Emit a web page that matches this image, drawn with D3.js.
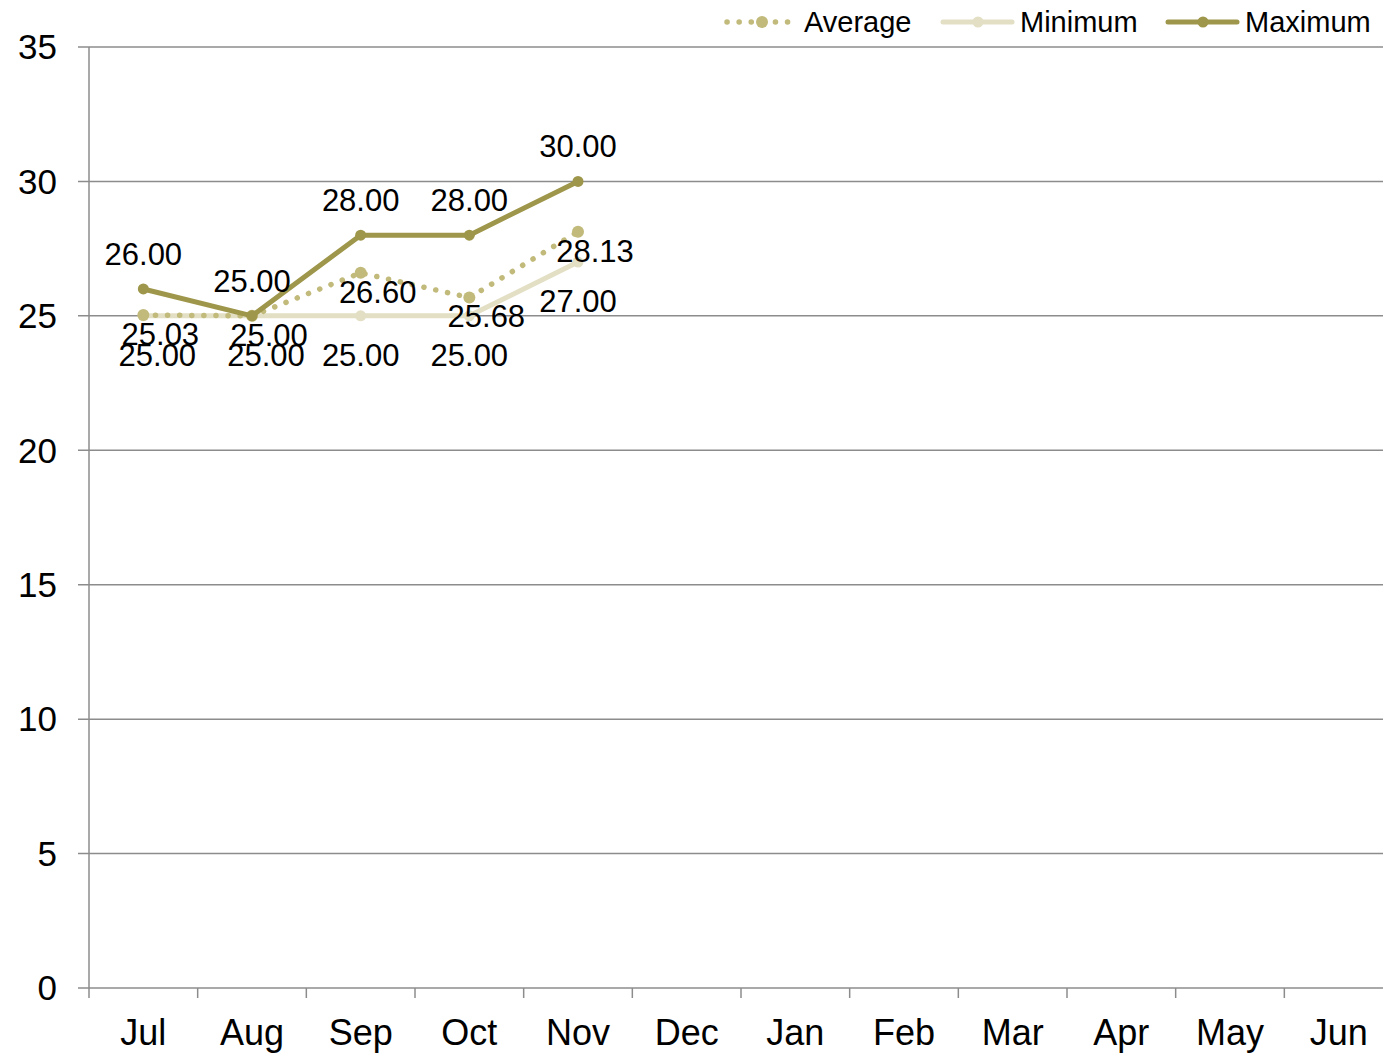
<!DOCTYPE html>
<html>
<head>
<meta charset="utf-8">
<script src="https://cdn.jsdelivr.net/npm/d3@7"></script>
<style>
  body { margin: 0; background: #fff; }
  svg { display: block; font-family: "Liberation Sans", Arial, sans-serif; }
</style>
</head>
<body>
<svg width="1383" height="1054"></svg>
<script>
'use strict';

const months = ["Jul", "Aug", "Sep", "Oct", "Nov", "Dec", "Jan", "Feb", "Mar", "Apr", "May", "Jun"];
const average = [25.03, 25.00, 26.60, 25.68, 28.13];
const minimum = [25.00, 25.00, 25.00, 25.00, 27.00];
const maximum = [26.00, 25.00, 28.00, 28.00, 30.00];
const yTicks = [0, 5, 10, 15, 20, 25, 30, 35];

let svg = d3.select("svg");
let margin = {left: 89, right: -10, top: 47, bottom: 66};
let width = +svg.attr("width"), height = +svg.attr("height");

let x = d3.scaleBand().domain(months).range([margin.left, width - margin.right]);
let y = d3.scaleLinear().domain([0, 35]).range([height - margin.bottom, margin.top]);

// gridlines
svg.append("g").selectAll("line").data(yTicks).enter().append("line")
    .attr("x1", margin.left - 11).attr("x2", width)
    .attr("y1", d => y(d)).attr("y2", d => y(d))
    .attr("stroke", "#8c8c8c").attr("stroke-width", 1.5);

// y axis line
svg.append("line")
    .attr("x1", margin.left).attr("x2", margin.left)
    .attr("y1", y(35)).attr("y2", y(0))
    .attr("stroke", "#8c8c8c").attr("stroke-width", 1.5);

// y labels
svg.append("g").selectAll("text").data(yTicks).enter().append("text")
    .attr("x", 57).attr("y", d => y(d))
    .attr("dy", "0.35em").attr("text-anchor", "end")
    .attr("font-size", 35).attr("fill", "#000")
    .text(d => d);

// x ticks
svg.append("g").selectAll("line").data(months).enter().append("line")
    .attr("x1", d => x(d)).attr("x2", d => x(d))
    .attr("y1", y(0)).attr("y2", y(0) + 10)
    .attr("stroke", "#8c8c8c").attr("stroke-width", 1.5);

svg.append("g").selectAll("text").data(months).enter().append("text")
    .attr("x", d => x(d) + x.bandwidth() / 2)
    .attr("y", 1045)
    .attr("text-anchor", "middle")
    .attr("font-size", 36).attr("fill", "#000")
    .text(d => d);

let cx = i => x(months[i]) + x.bandwidth() / 2;
let line = d3.line().x((d, i) => cx(i)).y(d => y(d));

let series = [
    {name: "Minimum", data: minimum, color: "#e2dfc4", dash: null, w: 5, r: 5.5, ldx: 0, ldy: 39},
    {name: "Average", data: average, color: "#c2ba7b", dash: "0.1 12", w: 5.5, r: 6, ldx: 17, ldy: 19},
    {name: "Maximum", data: maximum, color: "#9e964a", dash: null, w: 5, r: 5.5, ldx: 0, ldy: -35}
];

series.forEach(function (s) {
    let g = svg.append("g");
    g.append("path").datum(s.data)
        .attr("d", line)
        .attr("fill", "none")
        .attr("stroke", s.color)
        .attr("stroke-width", s.w)
        .attr("stroke-linecap", "round")
        .attr("stroke-dasharray", s.dash);
    g.selectAll("circle").data(s.data).enter().append("circle")
        .attr("cx", (d, i) => cx(i)).attr("cy", d => y(d))
        .attr("r", s.r).attr("fill", s.color);
});

// data labels drawn on top
series.forEach(function (s) {
    svg.append("g").selectAll("text").data(s.data).enter().append("text")
        .attr("x", (d, i) => cx(i) + s.ldx + (s.name === "Minimum" && i < 2 ? 14 : 0))
        .attr("y", d => y(d) + s.ldy)
        .attr("dy", "0.35em")
        .attr("text-anchor", "middle")
        .attr("font-size", 31).attr("fill", "#000")
        .text(d => d.toFixed(2));
});

// legend
let legend = svg.append("g");
let legendItems = [
    {s: series[1], x: 727},
    {s: series[0], x: 943},
    {s: series[2], x: 1168}
];
legendItems.forEach(function (l) {
    let g = legend.append("g").attr("transform", "translate(" + l.x + ",22)");
    g.append("line").attr("x1", 0).attr("x2", 69)
        .attr("stroke", l.s.color)
        .attr("stroke-width", l.s.w)
        .attr("stroke-linecap", "round")
        .attr("stroke-dasharray", l.s.dash);
    g.append("circle").attr("cx", 35).attr("r", l.s.r).attr("fill", l.s.color);
    g.append("text").attr("x", 77).attr("dy", "0.35em")
        .attr("font-size", 29).attr("fill", "#000")
        .text(l.s.name);
});
</script>
</body>
</html>
